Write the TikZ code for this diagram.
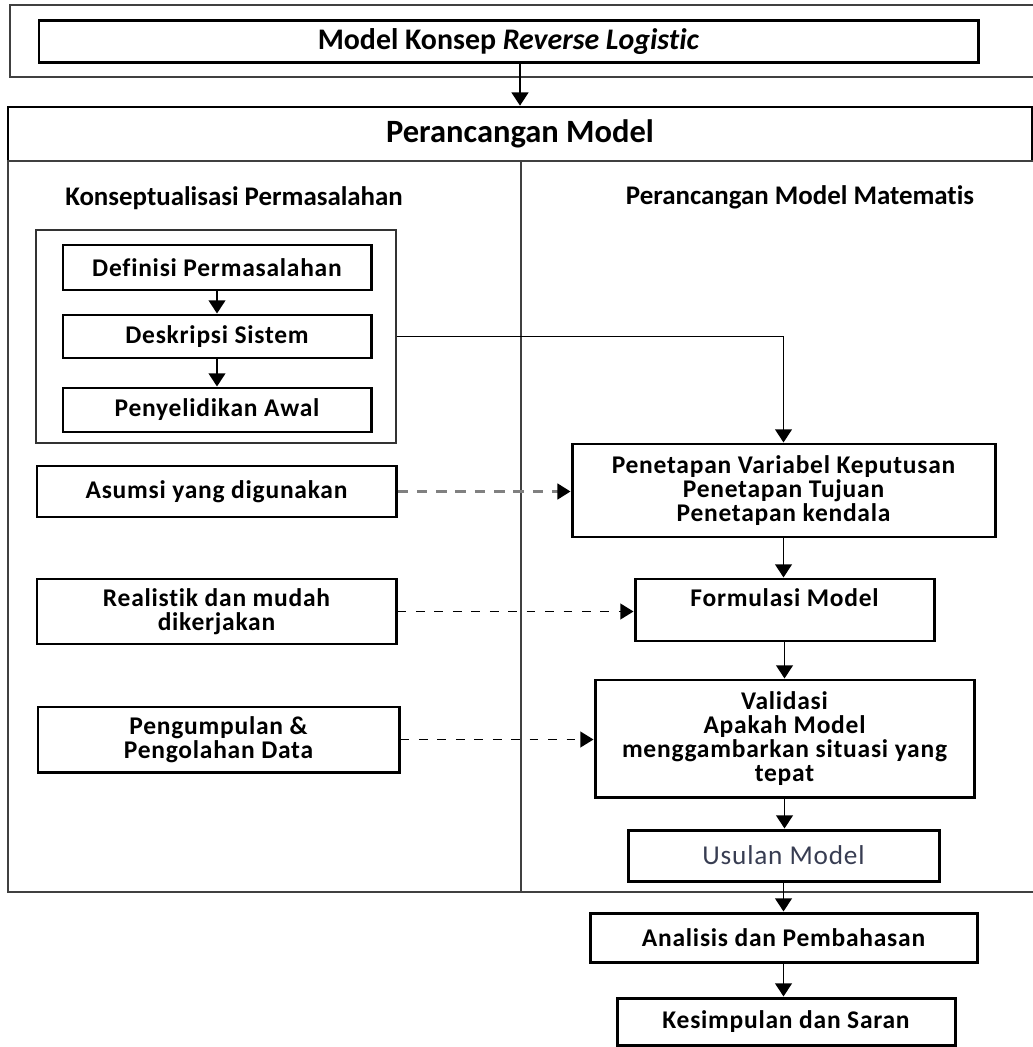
\documentclass[tikz,border=0pt]{standalone}
\usepackage{fontspec}
\setmainfont{Carlito}[Ligatures=NoCommon]
\newfontfamily\boxfam{Carlito}[LetterSpace=3,Ligatures=NoCommon]
\usetikzlibrary{arrows.meta}
\newcommand{\boxfont}{\boxfam\fontsize{14.5}{13.7}\selectfont\bfseries}
\newcommand{\titlefont}{\fontsize{17}{17}\selectfont\bfseries}
\definecolor{usulanblue}{rgb}{0.22,0.24,0.32}
\tikzstyle{flow}=[-{Triangle[width=9.5pt,length=7.5pt]}, line width=1.1pt, draw=black]
\tikzstyle{hint}=[-{Triangle[width=9pt,length=7.5pt]}, line width=0.9pt, dash pattern=on 5pt off 5.5pt]
\tikzstyle{greyhint}=[-{Triangle[width=9pt,length=7.5pt,color=black]}, line width=1.4pt, draw=black!50, dash pattern=on 6pt off 5pt]
\tikzstyle{proc}=[rectangle, draw, line width=1.7pt, inner sep=2pt, align=center, font=\boxfont]
\tikzstyle{group}=[rectangle, draw=black!80, line width=0.8pt, inner sep=0pt]
\tikzstyle{frame}=[draw=black!75, line width=0.9pt]
\tikzstyle{coltitle}=[inner sep=2pt, font=\fontsize{15.3}{16}\selectfont\bfseries]

\begin{document}
\begin{tikzpicture}
				\useasboundingbox (0,0) rectangle (20.64,-20.94);

				%The concept on top
				\draw[frame] (0.2,-0.1) rectangle (20.8,-1.54);
				\draw (10.17,-0.84) node[proc, minimum width=18.78cm, minimum height=0.84cm, font=\titlefont] (konsep) {Model Konsep \textit{Reverse Logistic}};

				%The design header
				\draw (10.4,-2.68) node[rectangle, draw, line width=1.5pt, minimum width=20.48cm, minimum height=1.08cm, font=\fontsize{18.5}{19}\selectfont\bfseries] (rancang) {Perancangan Model};
				\draw[flow] (konsep.south -| rancang.north) -- (rancang.north);

				%The two columns
				\draw[frame] (0.16,-3.22) rectangle (20.8,-17.84);
				\draw[frame] (10.42,-3.22) -- (10.42,-17.84);
				\draw (4.68,-3.96) node[coltitle] (kiri) {Konseptualisasi Permasalahan};
				\draw (16.0,-3.94) node[coltitle] (kanan) {Perancangan Model Matematis};

				%The left column
				\draw (4.32,-6.73) node[group, minimum width=7.2cm, minimum height=4.26cm] (grp) {};
				\draw (4.34,-5.35) node[proc, minimum width=6.16cm, minimum height=0.9cm] (definisi) {Definisi Permasalahan};
				\draw (4.34,-6.73) node[proc, minimum width=6.16cm, minimum height=0.86cm] (deskripsi) {Deskripsi Sistem};
				\draw (4.34,-8.2) node[proc, minimum width=6.16cm, minimum height=0.88cm] (awal) {Penyelidikan Awal};
				\draw[flow] (definisi) -- (deskripsi);
				\draw[flow] (deskripsi) -- (awal);

				\draw (4.33,-9.83) node[proc, minimum width=7.18cm, minimum height=1.02cm] (asumsi) {Asumsi yang digunakan};
				\draw (4.33,-12.23) node[proc, minimum width=7.18cm, minimum height=1.3cm] (realistik) {Realistik dan mudah\\dikerjakan};
				\draw (4.37,-14.79) node[proc, minimum width=7.22cm, minimum height=1.3cm] (data) {Pengumpulan \&\\Pengolahan Data};

				%The right column
				\draw (15.67,-9.81) node[proc, minimum width=8.46cm, minimum height=1.86cm] (tetap) {Penetapan Variabel Keputusan\\Penetapan Tujuan\\Penetapan kendala};
				\draw (15.69,-12.2) node[proc, minimum width=5.98cm, minimum height=1.24cm] (formulasi) {\raisebox{-4pt}{Formulasi Model}\\\strut};
				\draw (15.69,-14.77) node[proc, minimum width=7.58cm, minimum height=2.34cm] (validasi) {Validasi\\Apakah Model\\menggambarkan situasi yang\\tepat};
				\draw (15.67,-17.11) node[proc, minimum width=6.22cm, minimum height=1.02cm, font=\boxfam\fontsize{15.5}{14}\selectfont, text=usulanblue] (usulan) {Usulan Model};

				\draw[flow] (grp.east) -| (tetap.north);
				\draw[flow] (tetap.south) -- (tetap.south |- formulasi.north);
				\draw[flow] (formulasi.south) -- (formulasi.south |- validasi.north);
				\draw[flow] (validasi.south) -- (validasi.south |- usulan.north);

				\draw[greyhint] (asumsi.east) -- (asumsi.east -| tetap.west);
				\draw[hint] (realistik.east) -- (realistik.east -| formulasi.west);
				\draw[hint] (data.east) -- (data.east -| validasi.west);

				%Below the design
				\draw (15.67,-18.75) node[proc, minimum width=7.74cm, minimum height=0.98cm] (analisis) {Analisis dan Pembahasan};
				\draw (15.72,-20.43) node[proc, minimum width=6.76cm, minimum height=0.94cm] (simpul) {Kesimpulan dan Saran};
				\draw[flow] (usulan.south) -- (usulan.south |- analisis.north);
				\draw[flow] (analisis.south) -- (analisis.south |- simpul.north);
			\end{tikzpicture}
\end{document}
